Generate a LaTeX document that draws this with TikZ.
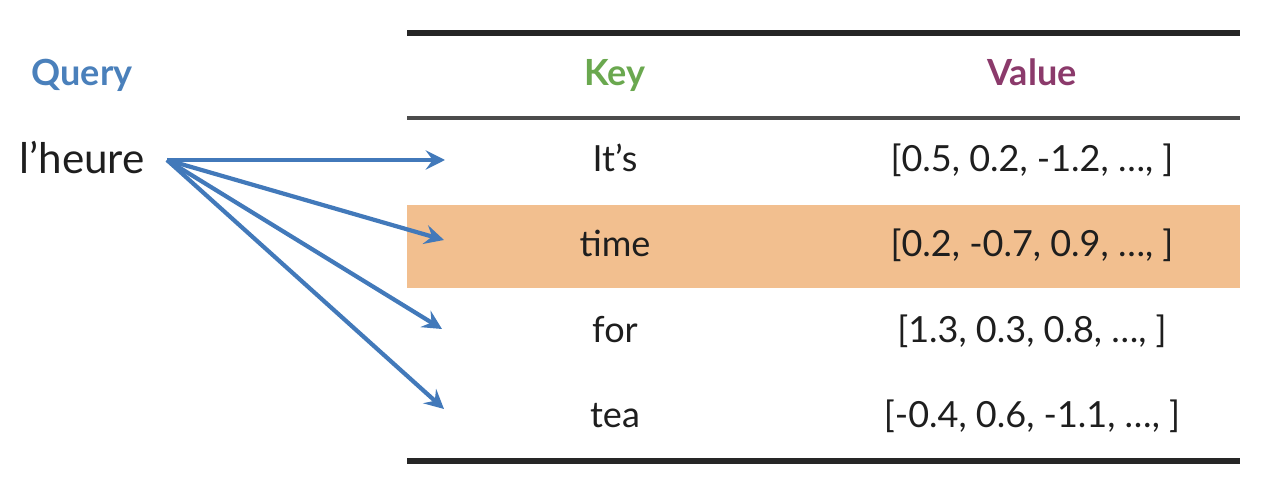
\documentclass[tikz,border=0pt]{standalone}
\usepackage{fontspec}
\setmainfont{Lato}
\usetikzlibrary{arrows.meta}
\definecolor{qblue}{RGB}{74,128,187}
\definecolor{kgreen}{RGB}{106,168,79}
\definecolor{vpurple}{RGB}{139,58,107}
\definecolor{arrblue}{RGB}{66,121,186}
\definecolor{band}{RGB}{242,191,143}
\definecolor{txt}{RGB}{30,30,30}
\tikzset{
  cell/.style={inner sep=0pt, text=txt, font=\fontsize{20.5}{24}\selectfont, anchor=base},
  head/.style={inner sep=0pt, font=\fontsize{20.5}{24}\selectfont\bfseries, anchor=base},
  rulethick/.style={line width=3pt, draw=black!85},
  rulethin/.style={line width=2pt, draw=black!70},
  qarrow/.style={draw=arrblue, line width=2.4pt, -{Stealth[length=11pt,width=11pt,inset=4pt]}, shorten >=0pt}
}
\begin{document}
\begin{tikzpicture}[x=0.02cm,y=-0.02cm]
\useasboundingbox (0,0) rectangle (1277,489);
\fill[band] (407,205) rectangle (1240,288);
\draw[rulethick] (407,33) -- (1240,33);
\draw[rulethin] (407,118) -- (1240,118);
\draw[rulethick] (407,461) -- (1240,461);
\node[head, text=qblue] (query) at (82,86) {Query};
\node[head, text=kgreen] (key) at (615,86) {Key};
\node[head, text=vpurple] (value) at (1032,86) {Value};
\node[inner sep=0pt, text=txt, font=\fontsize{24}{28}\selectfont, anchor=base] (lheure) at (82,174) {l’heure};
\node[cell] (k1) at (615,172) {It’s};
\node[cell] (k2) at (615,257) {time};
\node[cell] (k3) at (615,342) {for};
\node[cell] (k4) at (615,427) {tea};
\node[cell] (v1) at (1032,172) {[0.5, 0.2, -1.2, …, ]};
\node[cell] (v2) at (1032,257) {[0.2, -0.7, 0.9, …, ]};
\node[cell] (v3) at (1032,342) {[1.3, 0.3, 0.8, …, ]};
\node[cell] (v4) at (1032,427) {[-0.4, 0.6, -1.1, …, ]};
\coordinate (src) at (167,160);
\coordinate (e1) at (445,160);
\coordinate (e2) at (444,240);
\coordinate (e3) at (442,329);
\coordinate (e4) at (444,409);
\draw[qarrow] (src) -- (e1);
\draw[qarrow] (src) -- (e2);
\draw[qarrow] (src) -- (e3);
\draw[qarrow] (src) -- (e4);
\end{tikzpicture}
\end{document}
